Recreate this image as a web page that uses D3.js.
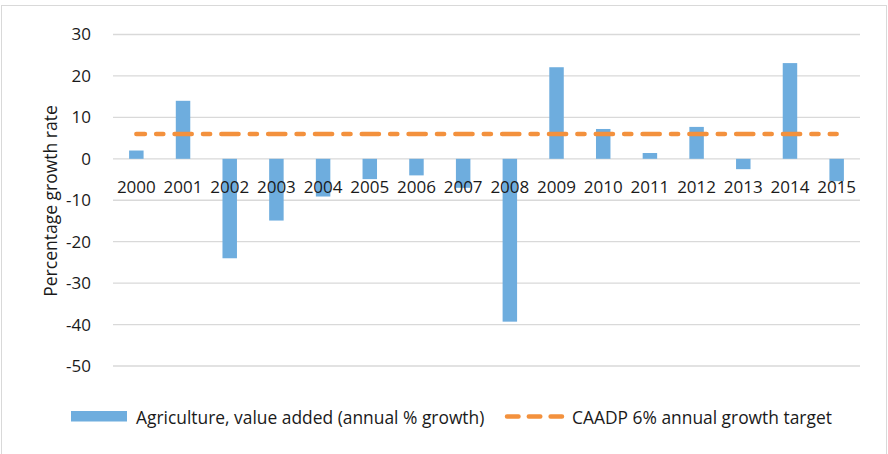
<html>
<head>
  <meta charset="utf-8">
  <script src="https://d3js.org/d3.v7.min.js"></script>
  <style type="text/css">
  body { margin: 0; background: #fff; }
  text {
    font-family: "Open Sans", "Noto Sans", sans-serif;
    fill: #1a1a1a;
  }
  </style>
</head>
<body>
<div id="chart"></div>
<script type="text/javascript">

const years = ["2000", "2001", "2002", "2003", "2004", "2005", "2006", "2007",
  "2008", "2009", "2010", "2011", "2012", "2013", "2014", "2015"];
const growth = [2.0, 14.0, -24.0, -14.9, -9.1, -4.9, -4.0, -7.0,
  -39.3, 22.1, 7.2, 1.4, 7.7, -2.5, 23.1, -5.4];
const target = [6, 6, 6, 6, 6, 6, 6, 6, 6, 6, 6, 6, 6, 6, 6, 6];
const yTicks = [30, 20, 10, 0, -10, -20, -30, -40, -50];
const seriesNames = ["Agriculture, value added (annual % growth)", "CAADP 6% annual growth target"];

const WIDTH = 888;
const HEIGHT = 454;
const BLUE = "#6EADDE";
const ORANGE = "#F3913D";

let svg = d3.select("#chart")
  .append("svg")
  .attr("width", WIDTH)
  .attr("height", HEIGHT);

// outer chart frame
svg.append("rect")
  .attr("x", 1.5)
  .attr("y", 5.5)
  .attr("width", 885)
  .attr("height", 460)
  .attr("fill", "#fff")
  .attr("stroke", "#d9d9d9")
  .attr("stroke-width", 1);

let x = d3.scaleBand()
  .domain(years)
  .range([113, 860])
  .paddingInner(0.69)
  .paddingOuter(0.345);

let y = d3.scaleLinear()
  .domain([-50, 30])
  .range([366, 34.5]);

// gridlines
svg.selectAll(".grid")
  .data(yTicks)
  .enter().append("line")
  .attr("class", "grid")
  .attr("x1", 113)
  .attr("x2", 860)
  .attr("y1", d => y(d))
  .attr("y2", d => y(d))
  .style("stroke", "#d9d9d9")
  .style("stroke-width", 1.3);

// y axis labels, plain hyphen like the original
let yAxis = svg.append("g")
  .attr("transform", "translate(91,0)")
  .call(d3.axisLeft(y).tickValues(yTicks).tickSize(0).tickPadding(0)
    .tickFormat(d => String(d)));
yAxis.select(".domain").remove();
yAxis.selectAll("text")
  .attr("font-size", 17)
  .style("font-family", "'Open Sans', sans-serif")
  .attr("fill", "#1a1a1a");

svg.append("text")
  .attr("transform", "translate(56.5,201) rotate(-90)")
  .attr("text-anchor", "middle")
  .attr("font-size", 17.5)
  .text("Percentage growth rate");

// bars
svg.selectAll(".bar")
  .data(growth)
  .enter().append("rect")
  .attr("class", "bar")
  .attr("x", (d, i) => x(years[i]))
  .attr("width", x.bandwidth())
  .attr("y", d => y(Math.max(0, d)))
  .attr("height", d => Math.abs(y(d) - y(0)))
  .attr("fill", BLUE);

// x labels (drawn over bars)
svg.selectAll(".xlabel")
  .data(years)
  .enter().append("text")
  .attr("class", "xlabel")
  .attr("x", d => x(d) + x.bandwidth() / 2)
  .attr("y", 192.5)
  .attr("text-anchor", "middle")
  .attr("font-size", 17)
  .text(d => d);

// target line
let line = d3.line()
  .x((d, i) => x(years[i]) + x.bandwidth() / 2)
  .y(d => y(d));

svg.append("path")
  .datum(target)
  .attr("d", line)
  .attr("fill", "none")
  .attr("stroke", ORANGE)
  .attr("stroke-width", 4.5)
  .attr("stroke-linecap", "round")
  .attr("stroke-dasharray", "17.2,11.2,7.2,11.2")
  .attr("stroke-dashoffset", 8.6);

// legend
svg.append("rect")
  .attr("x", 71)
  .attr("y", 411)
  .attr("width", 56)
  .attr("height", 10.5)
  .attr("fill", BLUE);

svg.append("text")
  .attr("x", 136)
  .attr("y", 424)
  .attr("font-size", 17.4)
  .text(seriesNames[0]);

svg.append("line")
  .attr("x1", 507)
  .attr("x2", 562)
  .attr("y1", 416.5)
  .attr("y2", 416.5)
  .attr("stroke", ORANGE)
  .attr("stroke-width", 4.5)
  .attr("stroke-linecap", "round")
  .attr("stroke-dasharray", "11.5,10.3");

svg.append("text")
  .attr("x", 572)
  .attr("y", 424)
  .attr("font-size", 17.4)
  .text(seriesNames[1]);

</script>
</body>
</html>
